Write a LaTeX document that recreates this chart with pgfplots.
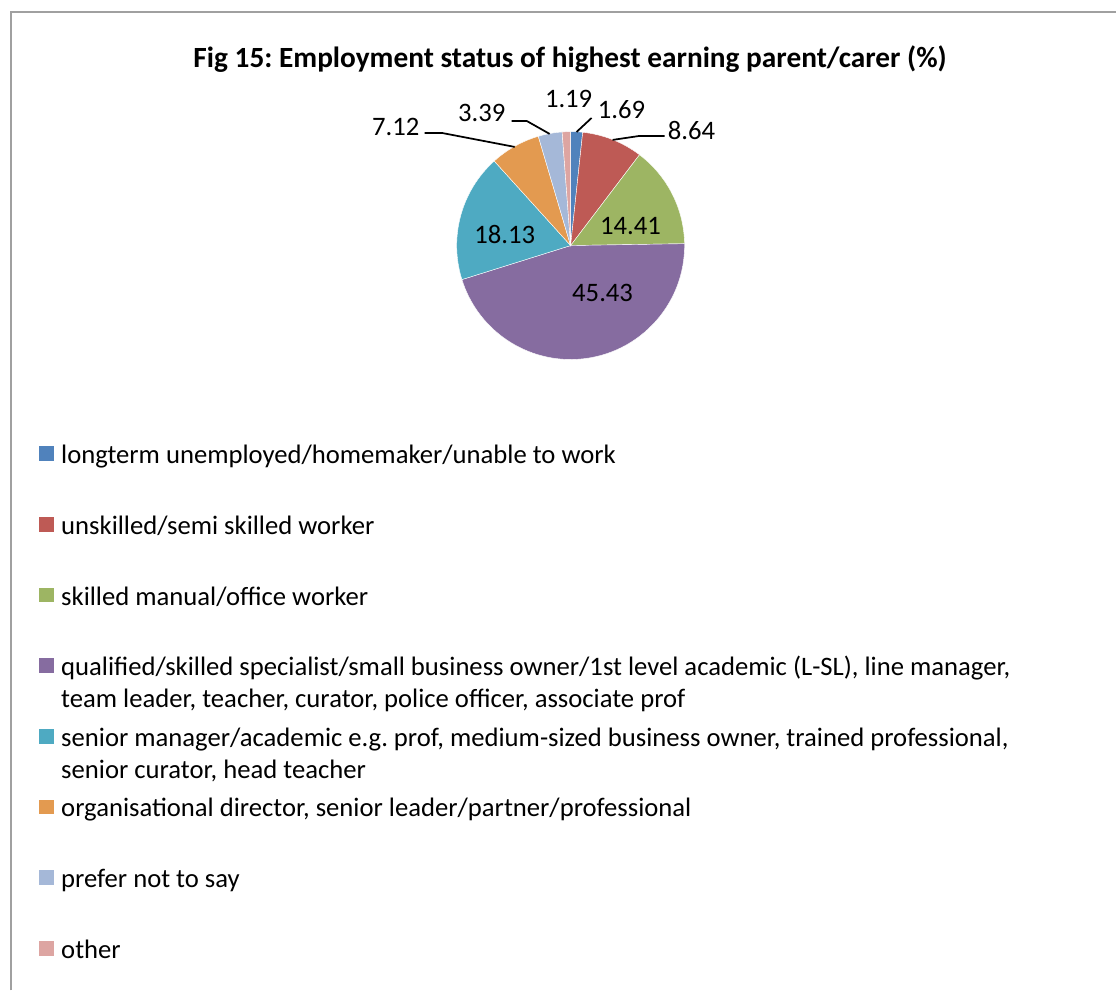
\documentclass[border=0pt]{standalone}
\usepackage{pgfplots}
\pgfplotsset{compat=1.18}
\usepackage{fontspec}
\setmainfont{Carlito}
\definecolor{c1}{HTML}{5082BC}
\definecolor{c2}{HTML}{BE5A55}
\definecolor{c3}{HTML}{9DB563}
\definecolor{c4}{HTML}{866CA0}
\definecolor{c5}{HTML}{4EAAC2}
\definecolor{c6}{HTML}{E39A50}
\definecolor{c7}{HTML}{A5B8D8}
\definecolor{c8}{HTML}{DDA5A2}
\definecolor{frame}{HTML}{A0A0A0}
% values (%)
\def\vA{1.69}\def\vB{8.64}\def\vC{14.41}\def\vD{45.43}
\def\vE{18.13}\def\vF{7.12}\def\vG{3.39}\def\vH{1.19}
\pgfmathsetmacro\aA{90}
\pgfmathsetmacro\aB{\aA-3.6*\vA}
\pgfmathsetmacro\aC{\aB-3.6*\vB}
\pgfmathsetmacro\aD{\aC-3.6*\vC}
\pgfmathsetmacro\aE{\aD-3.6*\vD}
\pgfmathsetmacro\aF{\aE-3.6*\vE}
\pgfmathsetmacro\aG{\aF-3.6*\vF}
\pgfmathsetmacro\aH{\aG-3.6*\vG}
\pgfmathsetmacro\aI{\aH-3.6*\vH}
\newcommand{\slice}[3]{\fill[#1, draw=white, line width=0.3pt] (axis cs:0,0) -- (axis cs:{cos(#2)},{sin(#2)}) arc[start angle=#2, end angle=#3, radius=85.5pt] -- cycle;}
\frenchspacing
\begin{document}
\begin{tikzpicture}
\begin{scope}[x=0.75pt,y=-0.75pt]
\path (0,0) rectangle (1117,991);
\draw[frame, line width=1.1pt] (11,991) -- (11,12) -- (1117,12);
\end{scope}
\begin{axis}[at={(428.25pt,-184.28pt)}, anchor=origin, hide axis,
  x=85.5pt, y=85.5pt, xmin=-1.1, xmax=1.1, ymin=-1.1, ymax=1.1, clip=false]
\slice{c1}{\aA}{\aB}
\slice{c2}{\aB}{\aC}
\slice{c3}{\aC}{\aD}
\slice{c4}{\aD}{\aE}
\slice{c5}{\aE}{\aF}
\slice{c6}{\aF}{\aG}
\slice{c7}{\aG}{\aH}
\slice{c8}{\aH}{\aI}
\end{axis}
\begin{scope}[x=0.75pt,y=-0.75pt, every node/.style={inner sep=0pt, font=\fontsize{20}{24}\selectfont}]
\node[anchor=base, font=\fontsize{22}{26}\selectfont\bfseries] at (570.5,68) {Fig 15: Employment status of highest earning parent/carer (\%)};
% data labels
\node at (569,99) {1.19};
\node at (622,110) {1.69};
\node at (692,131) {8.64};
\node at (482,113) {3.39};
\node at (396,127) {7.12};
\node at (505,235) {18.13};
\node at (631,226) {14.41};
\node at (603,293) {45.43};
\draw[line width=1.3pt] (577,132) -- (592,118);
\draw[line width=1.3pt] (613,140) -- (640,136) -- (665,136);
\draw[line width=1.3pt] (512,121) -- (527,121) -- (550,134);
\draw[line width=1.3pt] (425,133) -- (442,133) -- (515,147);
% legend
\foreach \c/\col/\txt in {
  454.0/c1/{longterm unemployed/homemaker/unable to work},
  524.7/c2/{unskilled/semi skilled worker},
  595.4/c3/{skilled manual/office worker},
  666.1/c4/{qualified/skilled specialist/small business owner/1st level academic (L-SL), line manager,},
  736.8/c5/{senior manager/academic e.g. prof, medium-sized business owner, trained professional,},
  807.5/c6/{organisational director, senior leader/partner/professional},
  878.2/c7/{prefer not to say},
  948.9/c8/{other}}{
  \fill[\col] (39,\c-7.3) rectangle (54,\c+7.3);
  \node[anchor=base west] at (61,\c+10) {\txt};
}
\node[anchor=base west] at (61,666.1+42) {team leader, teacher, curator, police officer, associate prof};
\node[anchor=base west] at (61,736.8+42) {senior curator, head teacher};
\end{scope}
\end{tikzpicture}
\end{document}
